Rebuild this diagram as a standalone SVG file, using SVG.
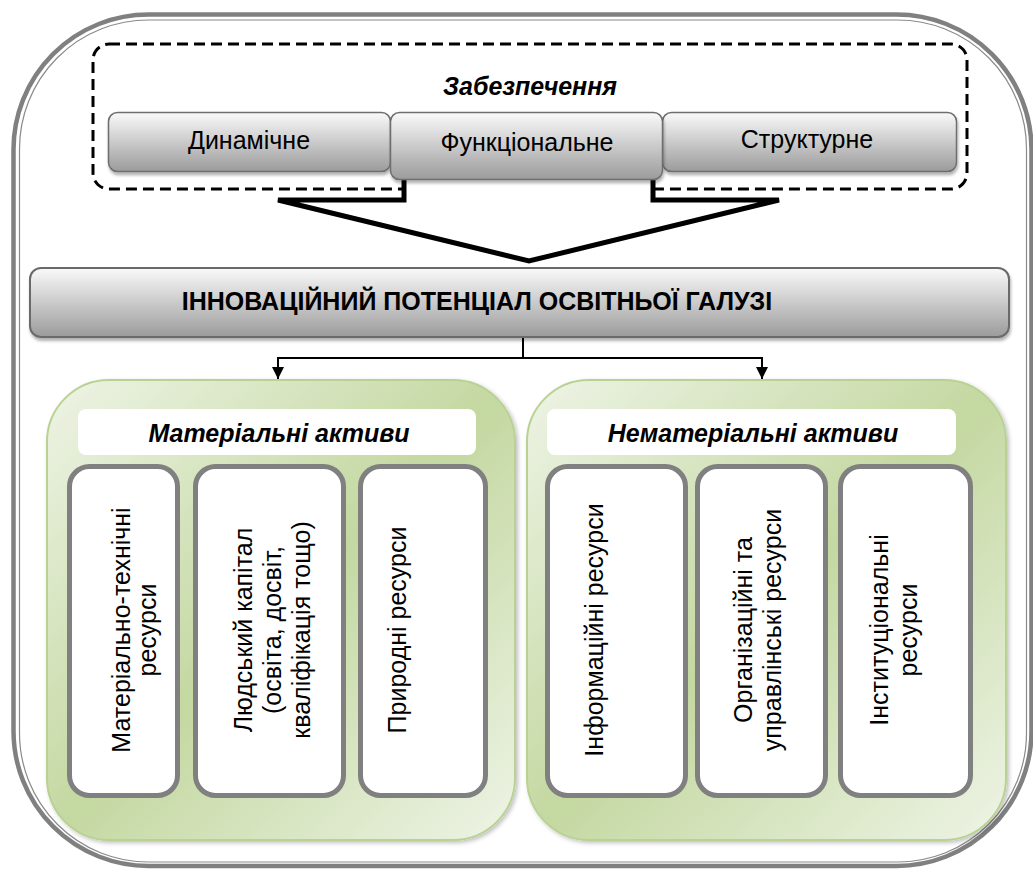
<svg xmlns="http://www.w3.org/2000/svg" width="1033" height="870" viewBox="0 0 1033 870">
<defs>
<style>
text{font-family:"Liberation Sans",Arial,sans-serif;fill:#000}
.t25{font-size:25px}
.bold{font-weight:bold}
.bi{font-weight:bold;font-style:italic}
.gbox{fill:url(#gray);stroke:#6e6e6e;stroke-width:1.5}
.res{fill:#fff;stroke:#808080;stroke-width:5}
.green{fill:url(#green);stroke:#b9d293;stroke-width:2}
.hdr{fill:#fff}
.conn{stroke:#000;stroke-width:2;fill:none}
</style>
<linearGradient id="gray" x1="0" y1="0" x2="0" y2="1">
<stop offset="0" stop-color="#fafafa"/>
<stop offset="1" stop-color="#9b9b9b"/>
</linearGradient>
<linearGradient id="green" x1="0" y1="0" x2="1" y2="1">
<stop offset="0" stop-color="#eef4e6"/>
<stop offset="0.5" stop-color="#c4d8a1"/>
<stop offset="1" stop-color="#eef4e6"/>
</linearGradient>
<filter id="sh" x="-5%" y="-10%" width="110%" height="130%">
<feDropShadow dx="1" dy="3" stdDeviation="1.5" flood-color="#000" flood-opacity="0.3"/>
</filter>
<filter id="shg" x="-5%" y="-5%" width="110%" height="110%">
<feDropShadow dx="2" dy="2" stdDeviation="2" flood-color="#000" flood-opacity="0.25"/>
</filter>
<marker id="arr" viewBox="0 0 12 12" refX="12" refY="6" markerWidth="12" markerHeight="12" markerUnits="userSpaceOnUse" orient="auto">
<path d="M0,0 L12,6 L0,12 Z" fill="#000"/>
</marker>
</defs>

<g id="frame">
<rect x="13.5" y="14.5" width="1018" height="851.5" rx="135" fill="#fff" stroke="#808080" stroke-width="4.5"/>
<rect x="19.5" y="20" width="1007" height="842" rx="129" fill="none" stroke="#8a8a8a" stroke-width="1.2"/>
</g>

<g id="zabezpechennia">
<rect x="93" y="44" width="874" height="145" rx="16" fill="none" stroke="#000" stroke-width="3" stroke-dasharray="11 6"/>
<text class="t25 bi" x="530" y="95" text-anchor="middle">Забезпечення</text>
</g>

<g id="connectors">
<polygon points="404,176 404,200 278,200 529,261 779,200 653,200 653,176" fill="#fff" stroke="#000" stroke-width="5" stroke-linejoin="miter" stroke-miterlimit="4"/>
<path class="conn" d="M523,338 V358"/>
<path class="conn" d="M278,358 H762"/>
<path class="conn" d="M278,357 V379" marker-end="url(#arr)"/>
<path class="conn" d="M762,357 V379" marker-end="url(#arr)"/>
</g>

<g id="dynamichne">
<rect class="gbox" x="108.5" y="112.5" width="282" height="59" rx="9" filter="url(#sh)"/>
<text class="t25" x="249" y="149" text-anchor="middle">Динамічне</text>
</g>
<g id="strukturne">
<rect class="gbox" x="662.5" y="112.5" width="294" height="59" rx="9" filter="url(#sh)"/>
<text class="t25" x="807" y="148" text-anchor="middle">Структурне</text>
</g>
<g id="funktsionalne">
<rect class="gbox" x="390.5" y="112.5" width="272" height="67" rx="9" filter="url(#sh)"/>
<text class="t25" x="527" y="151" text-anchor="middle">Функціональне</text>
</g>

<g id="potential">
<rect x="30" y="268" width="979" height="69" rx="11" fill="url(#gray)" stroke="#6a6a6a" stroke-width="2" filter="url(#sh)"/>
<text class="t25 bold" x="477" y="310" text-anchor="middle">ІННОВАЦІЙНИЙ ПОТЕНЦІАЛ ОСВІТНЬОЇ ГАЛУЗІ</text>
</g>

<g id="material">
<rect class="green" x="47" y="380" width="468" height="460" rx="62" filter="url(#shg)"/>
<rect class="hdr" x="78" y="409" width="398" height="46" rx="8"/>
<text class="t25 bi" x="279" y="442" text-anchor="middle">Матеріальні активи</text>
</g>
<g id="mat-tech">
<rect class="res" x="69.5" y="466.5" width="108" height="329" rx="20"/>
<text class="t25" transform="translate(130,630) rotate(-90)" text-anchor="middle">Матеріально-технічні</text>
<text class="t25" transform="translate(156,630) rotate(-90)" text-anchor="middle">ресурси</text>
</g>
<g id="human">
<rect class="res" x="195.5" y="466.5" width="148" height="329" rx="20"/>
<text class="t25" transform="translate(252,630) rotate(-90)" text-anchor="middle">Людський капітал</text>
<text class="t25" transform="translate(281,630) rotate(-90)" text-anchor="middle">(освіта, досвіт,</text>
<text class="t25" transform="translate(310,630) rotate(-90)" text-anchor="middle">кваліфікація тощо)</text>
</g>
<g id="natural">
<rect class="res" x="360.5" y="466.5" width="125" height="329" rx="20"/>
<text class="t25" transform="translate(406,630) rotate(-90)" text-anchor="middle">Природні ресурси</text>
</g>

<g id="nonmaterial">
<rect class="green" x="527" y="380" width="479" height="460" rx="62" filter="url(#shg)"/>
<rect class="hdr" x="547" y="409" width="409" height="46" rx="8"/>
<text class="t25 bi" x="753" y="442" text-anchor="middle">Нематеріальні активи</text>
</g>
<g id="info">
<rect class="res" x="547.5" y="466.5" width="138" height="329" rx="20"/>
<text class="t25" transform="translate(603,630) rotate(-90)" text-anchor="middle">Інформаційні ресурси</text>
</g>
<g id="org">
<rect class="res" x="697.5" y="466.5" width="128" height="329" rx="20"/>
<text class="t25" transform="translate(752,630) rotate(-90)" text-anchor="middle">Організаційні та</text>
<text class="t25" transform="translate(781,630) rotate(-90)" text-anchor="middle">управлінські ресурси</text>
</g>
<g id="inst">
<rect class="res" x="840.5" y="466.5" width="130" height="329" rx="20"/>
<text class="t25" transform="translate(888,630) rotate(-90)" text-anchor="middle">Інституціональні</text>
<text class="t25" transform="translate(917,630) rotate(-90)" text-anchor="middle">ресурси</text>
</g>
</svg>
